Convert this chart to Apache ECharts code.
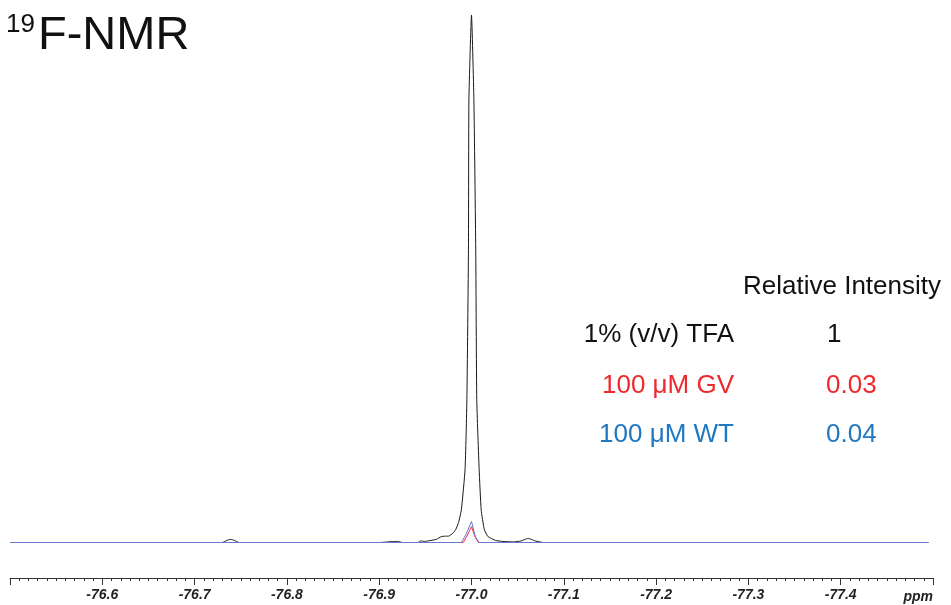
<!DOCTYPE html>
<html>
<head>
<meta charset="utf-8">
<title>19F-NMR</title>
<script src="https://cdn.jsdelivr.net/npm/echarts@6/dist/echarts.min.js"></script>
<style>
  html, body { margin: 0; padding: 0; background: #ffffff; }
  #chart { width: 951px; height: 605px; }
</style>
</head>
<body>
<div id="chart"></div>
<script>
// 19F spectra, chemical shift in ppm, intensity normalised to the TFA peak
const tfaPpm = [-76.500, -76.600, -76.700, -76.730, -76.735, -76.739, -76.743, -76.748,
  -76.800, -76.900, -76.918, -76.921, -76.925, -76.942, -76.945, -76.949, -76.953,
  -76.962, -76.967, -76.971, -76.975, -76.980, -76.983, -76.986, -76.989, -76.993,
  -76.995, -76.9967, -76.9972, -77.000, -77.0026, -77.0046, -77.0057, -77.0083,
  -77.0105, -77.0138, -77.018, -77.026, -77.034, -77.045, -77.054, -77.058, -77.0614,
  -77.065, -77.069, -77.078, -77.100, -77.200, -77.300, -77.400, -77.495];
const tfaIntensity = [0, 0, 0, 0, 0.004, 0.006, 0.004, 0,
  0, 0, 0.002, 0.002, 0, 0, 0.003, 0.002, 0.003,
  0.006, 0.011, 0.012, 0.012, 0.018, 0.025, 0.038, 0.062, 0.138,
  0.271, 0.555, 0.839, 1.0, 0.839, 0.555, 0.271, 0.138,
  0.062, 0.025, 0.011, 0.004, 0.002, 0.001, 0.003, 0.006, 0.0076,
  0.006, 0.003, 0, 0, 0, 0, 0, 0];

const gvPpm = [-76.500, -76.991, -76.995, -77.000, -77.004, -77.0075, -77.495];
const gvIntensity = [0, 0, 0.012, 0.03, 0.01, 0, 0];

const wtPpm = [-76.500, -76.989, -76.994, -77.000, -77.004, -77.008, -77.495];
const wtIntensity = [0, 0, 0.015, 0.04, 0.012, 0, 0];

// table beside the peak
const sampleNames = ['1% (v/v) TFA', '100 μM GV', '100 μM WT'];
const relativeIntensity = [1, 0.03, 0.04];
const sampleColors = ['#111111', '#ee2a2e', '#1f78c0'];

// shift axis
const axisMin = -77.5;
const axisMax = -76.5;
const axisStep = 0.1;

const FONT = '"Liberation Sans", Arial, Helvetica, sans-serif';

function pairs(xs, ys) {
  return xs.map((x, i) => [x, ys[i]]);
}

const chart = echarts.init(document.getElementById('chart'), null, { renderer: 'canvas' });

const rowY = [337, 388, 437];
const tableText = [];
tableText.push({
  type: 'text', left: 743, top: 289 - 15,
  style: { text: 'Relative Intensity', font: '26px ' + FONT, fill: '#111111' }
});
sampleNames.forEach((name, i) => {
  tableText.push({
    type: 'text', right: 951 - 734, top: rowY[i] - 15,
    style: { text: name, font: '26px ' + FONT, fill: sampleColors[i] }
  });
  tableText.push({
    type: 'text', left: i === 0 ? 827 : 826, top: rowY[i] - 15,
    style: { text: String(relativeIntensity[i]), font: '26px ' + FONT, fill: sampleColors[i] }
  });
});

chart.setOption({
  animation: false,
  backgroundColor: '#ffffff',
  // baseline sits on a half pixel so the 1px trace renders crisply
  grid: { left: 10, right: 18, top: 15, bottom: 62.5, containLabel: false },
  xAxis: {
    type: 'value',
    inverse: true,
    min: axisMin,
    max: axisMax,
    interval: axisStep,
    offset: 35.5,
    axisLine: { show: true, onZero: false, lineStyle: { color: '#333333', width: 1 } },
    axisTick: { show: true, length: 7, lineStyle: { color: '#333333' } },
    minorTick: { show: true, splitNumber: 10, length: 3, lineStyle: { color: '#333333' } },
    splitLine: { show: false },
    minorSplitLine: { show: false },
    axisLabel: {
      show: true,
      margin: 10,
      fontSize: 14,
      fontWeight: 'bold',
      fontStyle: 'italic',
      fontFamily: FONT,
      color: '#222222',
      showMinLabel: false,
      showMaxLabel: false,
      formatter: v => v.toFixed(1)
    }
  },
  yAxis: {
    type: 'value',
    min: 0,
    max: 1,
    show: false
  },
  series: [
    {
      name: sampleNames[0], type: 'line', data: pairs(tfaPpm, tfaIntensity),
      showSymbol: false, clip: false, smooth: 0.15,
      lineStyle: { color: '#1a1a1a', width: 1 }, z: 2
    },
    {
      name: sampleNames[1], type: 'line', data: pairs(gvPpm, gvIntensity),
      showSymbol: false, clip: false,
      lineStyle: { color: '#ee3040', width: 1 }, z: 3
    },
    {
      name: sampleNames[2], type: 'line', data: pairs(wtPpm, wtIntensity),
      showSymbol: false, clip: false,
      lineStyle: { color: '#6478cc', width: 1 }, z: 4
    }
  ],
  graphic: [
    { type: 'text', left: 6, top: 12, style: { text: '19', font: '26px ' + FONT, fill: '#111111' } },
    { type: 'text', left: 38, top: 13, style: { text: 'F-NMR', font: '47px ' + FONT, fill: '#111111' } },
    { type: 'text', right: 18, top: 590, style: { text: 'ppm', font: 'italic bold 14px ' + FONT, fill: '#222222' } }
  ].concat(tableText)
});
</script>
</body>
</html>
